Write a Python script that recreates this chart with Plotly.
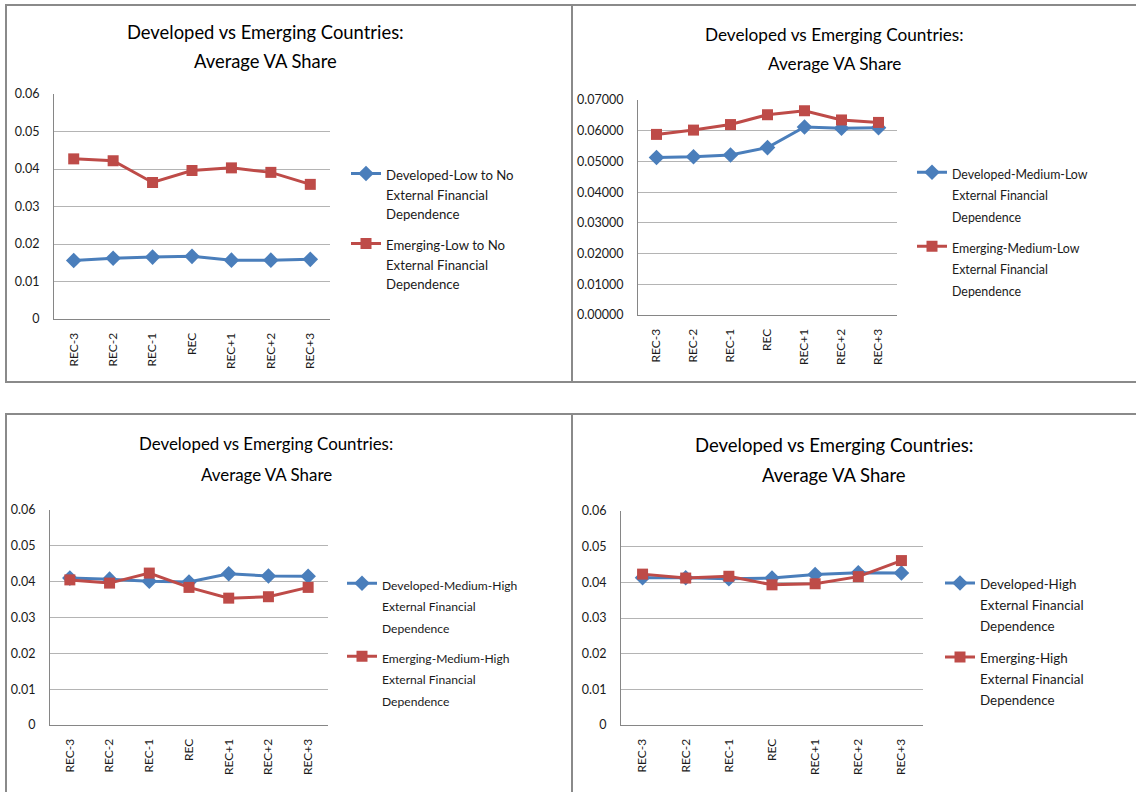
import plotly.graph_objects as go

# Period labels around the recession year
periods = ["REC-3", "REC-2", "REC-1", "REC", "REC+1", "REC+2", "REC+3"]

# Average value-added share by group of external financial dependence
dev_low = [0.0156, 0.0162, 0.0165, 0.0167, 0.0157, 0.0157, 0.0159]
emg_low = [0.0427, 0.0422, 0.0364, 0.0396, 0.0403, 0.0391, 0.0359]

dev_medlow = [0.0513, 0.0515, 0.0521, 0.0545, 0.0612, 0.0608, 0.0610]
emg_medlow = [0.0588, 0.0602, 0.0620, 0.0652, 0.0665, 0.0635, 0.0627]

dev_medhigh = [0.0410, 0.0407, 0.0401, 0.0399, 0.0422, 0.0416, 0.0415]
emg_medhigh = [0.0405, 0.0396, 0.0424, 0.0384, 0.0354, 0.0358, 0.0384]

dev_high = [0.0413, 0.0413, 0.0410, 0.0412, 0.0422, 0.0427, 0.0426]
emg_high = [0.0423, 0.0412, 0.0417, 0.0393, 0.0396, 0.0416, 0.0461]

dev_names = [
    ["Developed-Low to No", "External Financial", "Dependence"],
    ["Developed-Medium-Low", "External Financial", "Dependence"],
    ["Developed-Medium-High", "External Financial", "Dependence"],
    ["Developed-High", "External Financial", "Dependence"],
]
emg_names = [
    ["Emerging-Low to No", "External Financial", "Dependence"],
    ["Emerging-Medium-Low", "External Financial", "Dependence"],
    ["Emerging-Medium-High", "External Financial", "Dependence"],
    ["Emerging-High", "External Financial", "Dependence"],
]
title_lines = ["Developed vs Emerging Countries:", "Average VA Share"]

W, H = 1136, 792
BLUE = "#4A7EBB"
RED = "#BE4B48"
FONT = "Lato"
TEXT = "#1a1a1a"

fig = go.Figure()


def px_x(x):
    return x / W


def px_y(y):
    return 1 - y / H


def legend_label(lines, size):
    return "<br>".join(
        '<span style="font-size:%gpx">%s</span>' % (size, s) for s in lines)


panels = [
    dict(box=(54, 330, 94, 319), ymax=0.06, fmt="",
         leg=(346, 179), lsize=13.2, lspace=20, lgap=7,
         title=(265, 32, 61), tsize=18.4, data=(dev_low, emg_low)),
    dict(box=(638, 897, 100, 315), ymax=0.07, fmt=".5f",
         leg=(912, 177), lsize=12.4, lspace=21.5, lgap=6.5,
         title=(834, 34, 64), tsize=17.2, data=(dev_medlow, emg_medlow)),
    dict(box=(50, 328, 510, 725), ymax=0.06, fmt="",
         leg=(342, 588), lsize=12.1, lspace=21.5, lgap=5.5,
         title=(266, 444, 474), tsize=16.9, data=(dev_medhigh, emg_medhigh)),
    dict(box=(621, 923, 511, 725), ymax=0.06, fmt="",
         leg=(940, 588), lsize=13.4, lspace=21, lgap=8,
         title=(834, 445, 475), tsize=18.5, data=(dev_high, emg_high)),
]

layout_extra = {}
for i, p in enumerate(panels):
    n = "" if i == 0 else str(i + 1)
    xa, ya = "x" + n, "y" + n
    lg = "legend" + n
    dev, emg = p["data"]
    fig.add_trace(go.Scatter(
        x=periods, y=dev, name=legend_label(dev_names[i], p["lsize"]),
        xaxis=xa, yaxis=ya, legend=lg, legendgroup="d%d" % i,
        mode="lines+markers", line=dict(color=BLUE, width=3),
        marker=dict(symbol="diamond", size=12, color=BLUE)))
    fig.add_trace(go.Scatter(
        x=periods, y=emg, name=legend_label(emg_names[i], p["lsize"]),
        xaxis=xa, yaxis=ya, legend=lg, legendgroup="e%d" % i,
        mode="lines+markers", line=dict(color=RED, width=3),
        marker=dict(symbol="square", size=11, color=RED)))

    l, r, t, b = p["box"]
    layout_extra["xaxis" + n] = dict(
        domain=[px_x(l), px_x(r)], anchor=ya, type="category",
        range=[-0.5, 6.5], tickangle=-90, showgrid=False,
        showline=True, linecolor="#868686", linewidth=1,
        ticks="", tickfont=dict(family=FONT, size=12, color=TEXT),
        ticklabelstandoff=8, automargin=False, fixedrange=True)
    layout_extra["yaxis" + n] = dict(
        domain=[px_y(b), px_y(t)], anchor=xa, range=[0, p["ymax"]],
        dtick=0.01, tick0=0, tickformat=p["fmt"],
        showgrid=True, gridcolor="#b4b4b4", gridwidth=1,
        showline=True, linecolor="#868686", linewidth=1,
        zeroline=False, ticks="",
        tickfont=dict(family=FONT, size=12.5, color=TEXT),
        ticklabelstandoff=11, automargin=False, fixedrange=True)

    # legend: line spacing follows the legend font size, glyphs use lsize
    lx, ly = p["leg"]
    lfont = p["lspace"] / 1.3
    layout_extra[lg] = dict(
        x=px_x(lx), y=px_y(ly - 22), xanchor="left", yanchor="top",
        bgcolor="rgba(0,0,0,0)", borderwidth=0, valign="top",
        tracegroupgap=p["lgap"], font=dict(family=FONT, size=lfont, color=TEXT),
        itemwidth=30)

    cx, y1, y2 = p["title"]
    for txt, yy in zip(title_lines, (y1, y2)):
        fig.add_annotation(
            text=txt, x=px_x(cx), y=px_y(yy), xref="paper", yref="paper",
            xanchor="center", yanchor="middle", showarrow=False,
            font=dict(family=FONT, size=p["tsize"], color="#000"))

# panel frames
frames = [(6, 572, 5, 382), (572, 1140, 5, 382), (6, 572, 414, 800), (572, 1140, 414, 800)]
for l, r, t, b in frames:
    fig.add_shape(type="rect", xref="paper", yref="paper",
                  x0=px_x(l), x1=px_x(r), y0=px_y(b), y1=px_y(t),
                  line=dict(color="#8a8a8a", width=2), layer="below")

fig.update_layout(
    width=W, height=H,
    margin=dict(l=0, r=0, t=0, b=0, autoexpand=False),
    paper_bgcolor="white", plot_bgcolor="white",
    showlegend=True, **layout_extra)

fig.write_html("out.html", post_script="document.body.style.margin='0';")
